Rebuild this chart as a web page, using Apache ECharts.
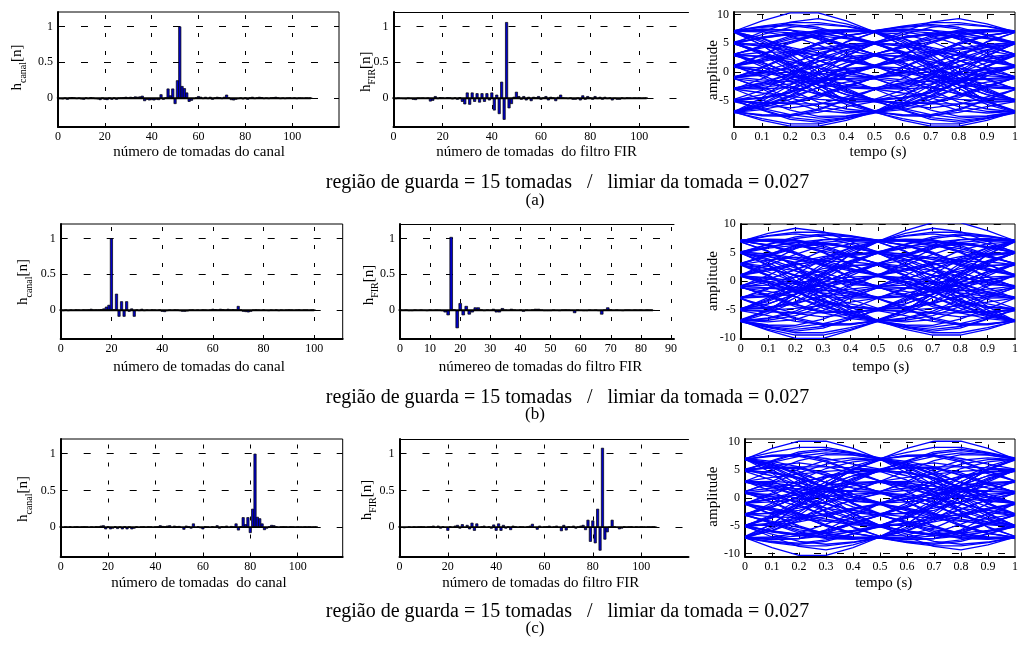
<!DOCTYPE html>
<html><head><meta charset="utf-8">
<script src="https://cdn.jsdelivr.net/npm/echarts@6/dist/echarts.min.js"></script>
<style>html,body{margin:0;padding:0;background:#fff}#c{width:1021px;height:647px}</style>
</head><body><div id="c"></div>
<script>
// ---------- data ----------
const canalA = [0.01,-0.01,-0.015,0.005,-0.02,0.01,0.015,0.01,-0.01,0.005,
 -0.015,-0.02,0.01,-0.01,0.015,0.005,-0.01,-0.015,-0.025,0.005,
 -0.02,-0.025,0.005,-0.02,0.01,-0.02,0.005,0.01,0.015,0.02,
 0.01,0.02,0.015,0.025,0.02,0.025,0.035,-0.04,-0.02,-0.03,
 -0.025,-0.03,-0.02,-0.025,0.055,-0.02,0.01,0.135,0.04,0.135,
 -0.08,0.25,1.0,0.17,0.14,0.08,-0.05,-0.035,-0.01,0.01,
 0.03,0.02,-0.01,0.02,-0.01,0.02,-0.02,0.01,0.02,0.015,
 -0.01,0.02,0.05,0.01,-0.025,-0.03,-0.02,-0.01,0.01,-0.015,
 0.01,-0.02,0.01,0.02,-0.01,0.01,0.02,0.015,-0.01,0.005,
 -0.01,0.01,0.015,0.02,0.01,-0.01,0.005,-0.01,0.005,0.01,
 -0.005,0.01,-0.01,0.005,0.0,-0.005,0.005,0.0,0.005];
const firA = [0.005,-0.01,0.005,-0.005,-0.01,-0.015,0.005,-0.005,-0.02,-0.025,
 0.005,0.0,0.005,-0.005,0.005,-0.045,-0.035,0.03,-0.01,0.015,
 0.01,-0.005,0.015,0.01,-0.015,0.01,-0.02,0.015,-0.05,-0.085,
 0.08,-0.09,0.08,-0.05,0.07,-0.06,0.07,-0.05,0.07,-0.03,
 0.08,-0.17,0.05,-0.22,0.23,-0.30,1.06,-0.14,-0.08,0.02,
 0.09,0.03,-0.02,0.03,-0.03,0.02,-0.04,0.02,0.01,0.03,
 -0.02,0.01,0.03,-0.03,0.02,0.01,-0.04,0.02,0.05,0.01,
 0.0,-0.01,0.01,-0.02,-0.02,0.005,-0.03,0.04,-0.02,0.03,
 0.01,-0.02,0.03,-0.01,0.02,-0.02,0.02,-0.01,0.01,-0.03,
 0.0,-0.02,-0.02,0.01,-0.01,0.01,0.005,-0.005,0.005,0.0,
 0.005,-0.005,0.0,0.005];
const canalB = [0.005,-0.01,0.005,-0.01,0.005,-0.005,0.01,0.005,-0.005,0.01,
 0.005,0.01,0.02,0.005,0.01,0.01,0.015,0.025,0.05,0.075,
 1.0,0.01,0.23,-0.09,0.125,-0.09,0.125,-0.02,0.025,-0.09,
 0.01,-0.01,0.02,-0.01,0.005,-0.005,0.01,0.005,-0.005,0.01,
 -0.02,-0.025,-0.01,0.005,-0.005,0.01,0.005,-0.01,-0.02,-0.02,
 -0.015,0.005,0.01,-0.005,0.005,-0.005,0.01,0.005,-0.005,0.005,
 0.02,0.015,0.005,0.02,0.015,0.005,0.02,0.01,0.015,0.01,
 0.06,0.01,-0.02,-0.025,-0.03,-0.02,0.005,0.01,0.005,-0.005,
 0.01,-0.005,-0.01,0.005,-0.005,0.01,-0.01,0.005,-0.005,0.005,
 0.01,0.005,-0.005,0.005,0.01,-0.005,0.005,0.005,-0.005,0.005,
 0.005];
const firB = [0.005,-0.005,0.005,-0.01,-0.01,0.005,-0.005,0.005,-0.005,-0.01,
 0.005,-0.005,0.005,0.0,-0.01,-0.03,-0.07,1.02,0.01,-0.25,
 0.10,-0.07,0.06,-0.06,-0.03,0.04,0.04,0.01,-0.01,0.005,
 -0.005,0.02,-0.03,-0.03,0.03,0.005,-0.005,0.02,0.005,-0.005,
 0.005,-0.02,0.005,-0.005,0.01,0.02,0.02,0.005,-0.01,-0.01,
 -0.01,0.005,-0.005,-0.01,0.005,0.01,0.005,-0.005,-0.04,0.005,
 -0.005,-0.01,-0.01,0.005,-0.005,0.005,-0.01,-0.06,0.005,0.04,
 0.01,-0.005,0.005,-0.005,-0.01,0.005,0.005,-0.005,0.005,0.0,
 0.005,-0.005,0.005,0.0,-0.005];
const canalC = [0.005,-0.01,0.005,-0.005,0.01,-0.01,0.005,0.01,-0.005,0.005,
 0.01,0.005,-0.01,0.005,-0.005,0.01,0.005,0.02,0.025,-0.03,
 0.01,-0.03,-0.02,0.01,-0.025,0.005,-0.03,0.01,-0.03,0.005,
 -0.03,-0.02,0.01,-0.01,0.005,0.01,-0.005,0.01,0.005,-0.01,
 0.005,0.01,0.025,0.015,0.01,0.02,0.025,-0.01,0.02,0.01,
 0.015,-0.01,-0.035,0.02,0.01,-0.02,0.05,-0.01,0.01,-0.015,
 -0.03,0.01,0.005,-0.01,0.01,-0.005,0.025,-0.02,0.01,0.005,
 0.02,-0.01,0.015,0.005,0.05,-0.045,0.01,0.135,0.04,0.135,
 -0.08,0.25,1.0,0.14,0.12,0.05,-0.04,-0.02,0.01,0.03,
 0.025,0.01,-0.01,0.005,0.01,0.005,-0.005,0.01,0.005,-0.005,
 0.005,0.0,-0.005,0.005,0.0,0.005,-0.005,0.0,0.005];
const firC = [0.005,-0.01,-0.015,-0.01,0.005,-0.01,0.005,-0.005,0.005,0.01,
 0.005,-0.01,0.005,0.01,0.02,-0.01,0.02,-0.02,0.01,-0.01,
 -0.05,0.01,-0.01,0.02,0.03,-0.02,0.04,-0.01,0.03,-0.03,
 0.06,-0.05,0.05,-0.01,0.01,0.02,-0.01,0.01,-0.02,0.035,
 -0.05,0.05,-0.05,0.03,-0.02,0.01,-0.04,0.02,0.01,-0.01,
 0.01,0.005,-0.01,0.01,0.02,0.045,-0.01,-0.035,0.02,-0.01,
 0.005,0.01,0.02,-0.01,0.005,0.02,-0.01,-0.055,0.03,-0.045,
 0.01,0.0,0.02,-0.02,0.005,0.02,0.03,-0.04,0.10,-0.20,
 0.09,-0.22,0.25,-0.32,1.08,-0.17,-0.07,0.0,0.10,0.01,
 -0.01,-0.03,-0.02,0.01,-0.005,0.005,0.01,-0.01,0.005,-0.005,
 0.005,0.0,-0.005,0.005,0.0,0.005,0.0];

// eye diagrams: received signal samples (5 per symbol, symbol period 0.5 s);
// each trace of the eye is a 2-symbol window of the signal (11 samples)
const eyeT = [0,0.1,0.2,0.3,0.4,0.5,0.6,0.7,0.8,0.9,1.0];
const eyeSigA = [
7.1,8.9,10.3,10.3,8.9, 7.0,4.7,1.3,-2.3,-5.1, -6.9,-7.7,-7.8,-6.7,-4.9, -3.1,-2.4,-1.5,-0.5,0.4,
1.0,1.8,2.8,3.8,4.6, 5.2,6.5,7.8,8.3,7.9, 7.0,5.5,3.1,-0.1,-2.9, -5.0,-6.6,-8.0,-8.5,-8.0,
-7.1,-6.6,-5.6,-4.0,-2.4, -1.1,-0.2,0.7,1.8,2.6, 3.1,4.2,5.3,6.3,7.0, 7.2,7.8,8.1,7.5,6.4,
5.0,3.0,0.3,-2.3,-4.0, -4.9,-4.5,-3.5,-2.0,-0.3, 0.8,0.2,-0.7,-1.8,-2.6, -2.9,-1.9,-0.3,1.8,3.7,
5.0,5.9,6.5,6.0,4.5, 3.0,1.3,-1.0,-3.6,-5.7, -7.1,-8.2,-9.1,-9.1,-8.2, -7.2,-6.0,-4.4,-2.8,-1.8,
-1.2,-1.8,-2.8,-3.8,-4.6, -5.0,-4.0,-2.3,-0.2,1.6, 2.9,3.4,3.5,3.0,2.0, 1.0,0.2,-0.7,-1.2,-1.2,
-0.9,-0.3,0.8,2.3,3.9, 5.1,5.9,6.6,7.1,7.3, 7.2,8.0,8.6,8.6,8.0, 7.1,5.8,3.8,1.2,-1.2,
-3.0,-4.9,-6.7,-7.8,-7.7, -7.0,-6.3,-4.8,-2.7,-0.7, 0.9,2.3,3.7,4.2,3.7, 2.9,1.6,-0.2,-2.3,-4.0,
-5.0,-5.5,-5.5,-4.5,-2.7, -1.0,0.7,2.7,4.8,6.3, 7.1,7.9,8.3,7.8,6.5, 5.1,3.4,1.1,-1.0,-2.2,
-2.8,-2.0,-0.5,1.0,2.2, 2.8,1.7,-0.3,-2.9,-5.3, -7.0,-7.5,-7.6,-7.1,-6.1, -5.2,-5.4,-5.6,-5.6,-5.4,
-5.1,-4.5,-3.5,-2.0,-0.3, 1.0,2.9,5.0,6.5,7.1, 7.0,5.9,4.1,2.0,0.3, -0.8,0.1,1.5,3.1,4.3,
4.9,3.4,1.1,-1.5,-3.6, -4.8,-4.7,-3.7,-1.7,0.9, 3.0,4.6,6.3,7.3,7.4, 7.1,7.0,6.3,4.7,2.8,
1.0,-0.9,-3.2,-5.3,-6.5, -7.0,-7.6,-7.5,-6.5,-4.8, -3.0,-1.2,1.2,3.3,4.4, 4.9,4.5,3.5,2.0,0.3,
-0.9,-1.4,-1.7,-1.2,0.0, 1.1,3.0,5.2,6.8,7.2, 6.9,4.7,1.3,-2.3,-5.1, -6.8,-6.1,-4.3,-1.7,0.9,
2.8,2.8,2.2,0.7,-1.4, -3.0,-3.7,-4.3,-4.8,-5.1, -5.2,-6.4,-7.5,-8.1,-7.8, -7.0,-5.1,-2.3,0.8,3.3,
4.9,4.9,4.3,3.3,2.1, 1.2,2.1,3.3,4.9,6.3, 7.1,7.2,6.8,5.8,4.4, 3.1,2.6,1.8,0.7,-0.2,
-1.1,-3.0,-5.2,-6.8,-7.2, -6.9,-5.7,-3.5,-0.4,2.7, 5.0,7.0,8.7,9.3,8.4, 7.0,5.2,2.6,-0.5,-3.2,
-4.9,-5.8,-6.3,-5.7,-4.4, -3.1,-2.2,-1.1,0.0,0.6, 0.9,0.7,0.3,-0.3,-0.7, -0.9,-0.6,0.0,1.1,2.2,
3.1,4.4,5.7,6.3,5.8, 4.9,3.3,0.8,-2.3,-5.1, -7.0,-8.5,-9.5,-9.5,-8.5, -7.0,-4.5,-1.1,2.5,5.3,
6.9,7.5,7.3,5.7,3.3, 1.0,-0.6,-2.5,-4.0,-4.8, -5.0,-5.4,-5.3,-4.2,-2.6, -1.0,0.8,3.0,5.1,6.4,
7.0,7.4,7.3,6.3,4.6, 3.1,1.6,-0.2,-1.7,-2.6, -2.9,-3.0,-2.7,-1.7,-0.2, 1.0,2.0,3.0,4.1,4.8,
5.1,6.0,6.8,6.8,6.0, 5.0,3.6,1.5,-1.1,-3.4, -5.0,-6.7,-8.3,-8.8,-8.1, -7.0,-5.9,-4.1,-1.5,1.1,
3.0,4.5,6.0,7.1,7.3, 7.2,7.4,7.3,6.8,6.0, 5.2,4.6,3.8,2.8,1.8, 1.0,0.0,-1.2,-2.3,-2.8,
-3.0,-2.7,-2.1,-1.5,-1.3, -1.2,-2.7,-4.5,-6.1,-6.9, -6.9,-5.5,-3.1,0.1,2.9, 4.9,6.1,6.7,6.2,4.7,
3.0,0.9,-1.7,-3.7,-4.7, -4.8,-3.2,-0.5,2.6,5.2, 6.9,6.6,5.4,3.3,1.0, -0.9];
const eyeSigB = [
-7.0,-8.7,-10.1,-10.1,-8.7, -7.1,-6.6,-5.6,-4.0,-2.4,
-0.9,1.0,3.3,5.4,6.6, 6.9,5.2,2.6,-0.5,-3.2, -4.8,-4.7,-3.7,-1.7,0.9, 3.0,4.7,6.2,6.7,6.1,
4.9,2.9,0.1,-3.1,-5.5, -6.9,-6.9,-6.1,-4.5,-2.7, -1.2,-1.3,-1.5,-2.1,-2.7, -3.0,-2.8,-2.3,-1.2,0.0,
1.0,1.8,2.8,3.8,4.6, 5.2,6.0,6.8,7.3,7.4, 7.2,7.3,7.1,6.0,4.5, 3.0,1.1,-1.5,-4.1,-5.9,
-7.0,-8.1,-8.8,-8.3,-6.7, -5.0,-3.4,-1.1,1.5,3.6, 5.0,6.0,6.8,6.8,6.0, 5.1,4.8,4.1,3.0,2.0,
1.0,-0.2,-1.7,-2.7,-3.0, -2.9,-2.6,-1.7,-0.2,1.6, 3.1,4.6,6.3,7.3,7.4, 7.0,6.4,5.1,3.0,0.8,
-1.0,-2.6,-4.2,-5.3,-5.4, -5.0,-4.8,-4.0,-2.5,-0.6, 1.0,3.3,5.7,7.3,7.5, 6.9,5.3,2.5,-1.1,-4.5,
-7.0,-8.5,-9.5,-9.5,-8.5, -7.0,-5.1,-2.3,0.8,3.3, 4.9,5.8,6.3,5.7,4.4, 3.1,2.2,1.1,0.0,-0.6,
-0.9,-0.7,-0.3,0.3,0.7, 0.9,0.6,0.0,-1.1,-2.2, -3.1,-4.4,-5.7,-6.3,-5.8, -4.9,-3.2,-0.5,2.6,5.2,
7.0,8.4,9.3,8.7,7.0, 5.0,2.7,-0.4,-3.5,-5.7, -6.9,-7.2,-6.8,-5.2,-3.0, -1.1,-0.2,0.7,1.8,2.6,
3.1,4.4,5.8,6.8,7.2, 7.1,6.3,4.9,3.3,2.1, 1.2,2.1,3.3,4.3,4.9, 4.9,3.3,0.8,-2.3,-5.1,
-7.0,-7.8,-8.1,-7.5,-6.4, -5.2,-5.1,-4.8,-4.3,-3.7, -3.0,-1.4,0.7,2.2,2.8, 2.8,0.9,-1.7,-4.3,-6.1,
-6.8,-5.1,-2.3,1.3,4.7, 6.9,7.2,6.8,5.2,3.0, 1.1,0.0,-1.2,-1.7,-1.4, -0.9,0.3,2.0,3.5,4.5,
4.9,4.4,3.3,1.2,-1.2, -3.0,-4.8,-6.5,-7.5,-7.6, -7.0,-6.5,-5.3,-3.2,-0.9, 1.0,2.8,4.7,6.3,7.0,
7.1,7.4,7.3,6.3,4.6, 3.0,0.9,-1.7,-3.7,-4.7, -4.8,-3.6,-1.5,1.1,3.4, 4.9,4.3,3.1,1.5,0.1,
-0.8,0.3,2.0,4.1,5.9, 7.0,7.1,6.5,5.0,2.9, 1.0,-0.3,-2.0,-3.5,-4.5, -5.1,-5.4,-5.6,-5.6,-5.4,
-5.2,-6.1,-7.1,-7.6,-7.5, -7.0,-5.3,-2.9,-0.3,1.7, 2.8,2.2,1.0,-0.5,-2.0, -2.8,-2.2,-1.0,1.1,3.4,
5.1,6.5,7.8,8.3,7.9, 7.1,6.3,4.8,2.7,0.7, -1.0,-2.7,-4.5,-5.5,-5.5, -5.0,-4.0,-2.3,-0.2,1.6,
2.9,3.7,4.2,3.7,2.3, 0.9,-0.7,-2.7,-4.8,-6.3, -7.0,-7.7,-7.8,-6.7,-4.9, -3.0,-1.2,1.2,3.8,5.8,
7.1,8.0,8.6,8.6,8.0, 7.2,7.3,7.1,6.6,5.9, 5.1,3.9,2.3,0.8,-0.3, -0.9,-1.2,-1.2,-0.7,0.2,
1.0,2.0,3.0,3.5,3.4, 2.9,1.6,-0.2,-2.3,-4.0, -5.0,-4.6,-3.8,-2.8,-1.8, -1.2,-1.8,-2.8,-4.4,-6.0,
-7.2,-8.2,-9.1,-9.1,-8.2, -7.1,-5.7,-3.6,-1.0,1.3, 3.0,4.5,6.0,6.5,5.9, 5.0,3.7,1.8,-0.3,-1.9,
-2.9,-2.6,-1.8,-0.7,0.2, 0.8,-0.3,-2.0,-3.5,-4.5, -4.9,-4.0,-2.3,0.3,3.0, 5.0,6.4,7.5,8.1,7.8,
7.2,7.0,6.3,5.3,4.2, 3.1,2.6,1.8,0.7,-0.2, -1.1,-2.4,-4.0,-5.6,-6.6, -7.1,-8.0,-8.5,-8.0,-6.6,
-5.0,-2.9,-0.1,3.1,5.5, 7.0,7.9,8.3,7.8,6.5, 5.2,4.6,3.8,2.8,1.8, 1.0,0.4,-0.5,-1.5,-2.4,
-3.1,-4.9,-6.7,-7.8,-7.7, -6.9,-5.1,-2.3,1.3,4.7, 7.0,8.9,10.3,10.3,8.9, 7.1];
const eyeSigC = [
-7.1,-8.9,-10.3,-10.3,-8.9, -7.0,-4.7,-1.3,2.3,5.1, 6.9,7.7,7.8,6.7,4.9, 3.1,2.4,1.5,0.5,-0.4,
-1.0,-1.8,-2.8,-3.8,-4.6, -5.2,-6.5,-7.8,-8.3,-7.9, -7.0,-5.5,-3.1,0.1,2.9, 5.0,6.6,8.0,8.5,8.0,
7.1,6.6,5.6,4.0,2.4, 1.1,0.2,-0.7,-1.8,-2.6, -3.1,-4.2,-5.3,-6.3,-7.0, -7.2,-7.8,-8.1,-7.5,-6.4,
-5.0,-3.0,-0.3,2.3,4.0, 4.9,4.5,3.5,2.0,0.3, -0.8,-0.2,0.7,1.8,2.6, 2.9,1.9,0.3,-1.8,-3.7,
-5.0,-5.9,-6.5,-6.0,-4.5, -3.0,-1.3,1.0,3.6,5.7, 7.1,8.2,9.1,9.1,8.2, 7.2,6.0,4.4,2.8,1.8,
1.2,1.8,2.8,3.8,4.6, 5.0,4.0,2.3,0.2,-1.6, -2.9,-3.4,-3.5,-3.0,-2.0, -1.0,-0.2,0.7,1.2,1.2,
0.9,0.3,-0.8,-2.3,-3.9, -5.1,-5.9,-6.6,-7.1,-7.3, -7.2,-8.0,-8.6,-8.6,-8.0, -7.1,-5.8,-3.8,-1.2,1.2,
3.0,4.9,6.7,7.8,7.7, 7.0,6.3,4.8,2.7,0.7, -0.9,-2.3,-3.7,-4.2,-3.7, -2.9,-1.6,0.2,2.3,4.0,
5.0,5.5,5.5,4.5,2.7, 1.0,-0.7,-2.7,-4.8,-6.3, -7.1,-7.9,-8.3,-7.8,-6.5, -5.1,-3.4,-1.1,1.0,2.2,
2.8,2.0,0.5,-1.0,-2.2, -2.8,-1.7,0.3,2.9,5.3, 7.0,7.5,7.6,7.1,6.1, 5.2,5.4,5.6,5.6,5.4,
5.1,4.5,3.5,2.0,0.3, -1.0,-2.9,-5.0,-6.5,-7.1, -7.0,-5.9,-4.1,-2.0,-0.3, 0.8,-0.1,-1.5,-3.1,-4.3,
-4.9,-3.4,-1.1,1.5,3.6, 4.8,4.7,3.7,1.7,-0.9, -3.0,-4.6,-6.3,-7.3,-7.4, -7.1,-7.0,-6.3,-4.7,-2.8,
-1.0,0.9,3.2,5.3,6.5, 7.0,7.6,7.5,6.5,4.8, 3.0,1.2,-1.2,-3.3,-4.4, -4.9,-4.5,-3.5,-2.0,-0.3,
0.9,1.4,1.7,1.2,0.0, -1.1,-3.0,-5.2,-6.8,-7.2, -6.9,-4.7,-1.3,2.3,5.1, 6.8,6.1,4.3,1.7,-0.9,
-2.8,-2.8,-2.2,-0.7,1.4, 3.0,3.7,4.3,4.8,5.1, 5.2,6.4,7.5,8.1,7.8, 7.0,5.1,2.3,-0.8,-3.3,
-4.9,-4.9,-4.3,-3.3,-2.1, -1.2,-2.1,-3.3,-4.9,-6.3, -7.1,-7.2,-6.8,-5.8,-4.4, -3.1,-2.6,-1.8,-0.7,0.2,
1.1,3.0,5.2,6.8,7.2, 6.9,5.7,3.5,0.4,-2.7, -5.0,-7.0,-8.7,-9.3,-8.4, -7.0,-5.2,-2.6,0.5,3.2,
4.9,5.8,6.3,5.7,4.4, 3.1,2.2,1.1,0.0,-0.6, -0.9,-0.7,-0.3,0.3,0.7, 0.9,0.6,0.0,-1.1,-2.2,
-3.1,-4.4,-5.7,-6.3,-5.8, -4.9,-3.3,-0.8,2.3,5.1, 7.0,8.9,10.2,10.2,8.9, 7.0,4.5,1.1,-2.5,-5.3,
-6.9,-7.5,-7.3,-5.7,-3.3, -1.0,0.6,2.5,4.0,4.8, 5.0,5.4,5.3,4.2,2.6, 1.0,-0.8,-3.0,-5.1,-6.4,
-7.0,-7.4,-7.3,-6.3,-4.6, -3.1,-1.6,0.2,1.7,2.6, 2.9,3.0,2.7,1.7,0.2, -1.0,-2.0,-3.0,-4.1,-4.8,
-5.1,-6.0,-6.8,-6.8,-6.0, -5.0,-3.6,-1.5,1.1,3.4, 5.0,6.7,8.3,8.8,8.1, 7.0,5.9,4.1,1.5,-1.1,
-3.0,-4.5,-6.0,-7.1,-7.3, -7.2,-7.4,-7.3,-6.8,-6.0, -5.2,-4.6,-3.8,-2.8,-1.8, -1.0,0.0,1.2,2.3,2.8,
3.0,2.7,2.1,1.5,1.3, 1.2,2.7,4.5,6.1,6.9, 6.9,5.5,3.1,-0.1,-2.9, -4.9,-6.1,-6.7,-6.2,-4.7,
-3.0,-0.9,1.7,3.7,4.7, 4.8,3.2,0.5,-2.6,-5.2, -6.9,-6.6,-5.4,-3.3,-1.0, 0.9];

const barYTicks = [0, 0.5, 1];
const ticks20 = [0, 20, 40, 60, 80, 100];
const ticks10 = [0, 10, 20, 30, 40, 50, 60, 70, 80, 90];
const eyeXTicks = [0, 0.1, 0.2, 0.3, 0.4, 0.5, 0.6, 0.7, 0.8, 0.9, 1];
const eyeYTicks = [-10, -5, 0, 5, 10];

// ---------- layout ----------
const FONT = "'Liberation Serif', 'Times New Roman', serif";
const SYM = 5, WIN = 11;  // samples per symbol, samples per eye trace
const panels = [
 {kind:'bar', data:canalA, left:58, top:12, width:281, height:115, xmax:120, xint:20, xTicks:ticks20, barW:3},
 {kind:'bar', data:firA, left:393.5, top:12, width:295, height:115, xmax:120, xint:20, xTicks:ticks20, barW:3, noRight:true},
 {kind:'eye', data:eyeSigA, left:734, top:12, width:286, height:115, ymin:-9.65, ymax:10.47, yint:0.05},
 {kind:'bar', data:canalB, left:60.7, top:224, width:282, height:115, xmax:111.2, xint:20, xTicks:ticks20, barW:3},
 {kind:'bar', data:firB, left:400, top:224, width:274, height:115, xmax:91, xint:10, xTicks:ticks10, barW:3.4, noRight:true},
 {kind:'eye', data:eyeSigB, left:740.7, top:224, width:280.3, height:115, ymin:-10.2, ymax:10.05, yint:0.05},
 {kind:'bar', data:canalC, left:60.7, top:439, width:282, height:117.5, xmax:119, xint:20, xTicks:ticks20, barW:3},
 {kind:'bar', data:firC, left:399.5, top:439, width:289, height:117.5, xmax:119.6, xint:20, xTicks:ticks20, barW:3, noRight:true},
 {kind:'eye', data:eyeSigC, left:745, top:439, width:276, height:117.5, ymin:-10.5, ymax:10.6, yint:0.5}
];

const grids = [], xAxes = [], yAxes = [], series = [];
const fmtList = list => v => list.some(t => Math.abs(t - v) < 1e-6) ? String(+(+v).toFixed(2)) : '';
const dashH = [7, 16], dashV = [4, 14];
const labelStyle = {fontFamily: FONT, fontSize: 12, color: '#000'};

panels.forEach(p => {
  const gi = grids.length;
  grids.push({left: p.left, top: p.top, width: p.width, height: p.height,
    show: !p.noRight, borderColor: '#000', borderWidth: 1, backgroundColor: 'transparent'});
  const isBar = p.kind === 'bar';
  const xmax = isBar ? p.xmax : 1, xint = isBar ? p.xint : 0.1;
  const ymin = isBar ? -0.4 : p.ymin, ymax = isBar ? 1.2 : p.ymax, yint = isBar ? 0.1 : p.yint;
  const xTicks = isBar ? p.xTicks : eyeXTicks, yTicks = isBar ? barYTicks : eyeYTicks;
  const xi = xAxes.length;
  xAxes.push({type: 'value', gridIndex: gi, min: 0, max: xmax, interval: xint, position: 'bottom',
    axisLine: {show: true, onZero: false, lineStyle: {color: '#000', width: 2}},
    axisTick: {show: false}, splitLine: {show: false},
    axisLabel: Object.assign({formatter: fmtList(xTicks), margin: 4, showMinLabel: true, showMaxLabel: true}, labelStyle)});
  if (p.noRight) {
    xAxes.push({type: 'value', gridIndex: gi, min: 0, max: xmax, position: 'top',
      axisLine: {show: true, onZero: false, lineStyle: {color: '#000', width: 1}},
      axisTick: {show: false}, axisLabel: {show: false}, splitLine: {show: false}});
  }
  const yi = yAxes.length;
  yAxes.push({type: 'value', gridIndex: gi, min: ymin, max: ymax, interval: yint,
    axisLine: {show: true, onZero: false, lineStyle: {color: '#000', width: 2}},
    axisTick: {show: false}, splitLine: {show: false},
    axisLabel: Object.assign({formatter: fmtList(yTicks), margin: 5, showMinLabel: true, showMaxLabel: true}, labelStyle)});
  const xGrid = xTicks.filter(v => v > 0 && v < xmax);
  const yGrid = yTicks.filter(v => v > ymin && v < ymax);
  const markLine = {silent: true, symbol: ['none', 'none'], z: 1, animation: false, label: {show: false},
    lineStyle: {color: '#000', width: 1},
    data: xGrid.map(v => ({xAxis: v, lineStyle: {color: '#000', width: 1, type: dashV}}))
      .concat(yGrid.map(v => ({yAxis: v, lineStyle: {color: '#000', width: 1, type: dashH}})))};
  if (isBar) {
    series.push({type: 'bar', xAxisIndex: xi, yAxisIndex: yi, silent: true, z: 2,
      data: p.data.map((v, i) => [i, v]), barWidth: p.barW,
      itemStyle: {color: '#0000c8', borderColor: '#000', borderWidth: 0.7}, markLine});
    series.push({type: 'line', xAxisIndex: xi, yAxisIndex: yi, silent: true, z: 3, symbol: 'none',
      data: [[0, 0], [p.data.length - 1, 0]], lineStyle: {color: '#000', width: 1.8}});
  } else {
    const sig = p.data;
    for (let s = 0, k = 0; s + WIN <= sig.length; s += SYM, k++) {
      const seg = sig.slice(s, s + WIN);
      const ser = {type: 'line', xAxisIndex: xi, yAxisIndex: yi, silent: true, z: 2, symbol: 'none',
        data: seg.map((v, i) => [eyeT[i], v]), lineStyle: {color: '#0000ff', width: 1.3}};
      if (k === 0) ser.markLine = markLine;
      series.push(ser);
    }
  }
});

// ---------- text ----------
const graphic = [];
function txt(x, y, text, size) {
  graphic.push({type: 'text', x, y, z: 100, silent: true,
    style: {text, fontFamily: FONT, fontSize: size, fill: '#000', align: 'center', verticalAlign: 'middle'}});
}
function ylab(x, y, main, sub) {
  const text = sub ? '{m|' + main + '}{s|' + sub + '}{m|[n]}' : '{m|' + main + '}';
  graphic.push({type: 'text', x, y, rotation: Math.PI / 2, z: 100, silent: true,
    style: {text, align: 'center', verticalAlign: 'middle', fill: '#000',
      rich: {m: {fontFamily: FONT, fontSize: 15, lineHeight: 22, verticalAlign: 'middle', fill: '#000'},
             s: {fontFamily: FONT, fontSize: 10, lineHeight: 10, verticalAlign: 'bottom', fill: '#000'}}}});
}
txt(199, 152, 'número de tomadas do canal', 15);
txt(536.7, 152, 'número de tomadas  do filtro FIR', 15);
txt(878, 152, 'tempo (s)', 15);
txt(199, 367, 'número de tomadas do canal', 15);
txt(540.5, 366.7, 'númereo de tomadas do filtro FIR', 15);
txt(880.8, 366.7, 'tempo (s)', 15);
txt(199, 583.3, 'número de tomadas  do canal', 15);
txt(540.8, 583.3, 'número de tomadas do filtro FIR', 15);
txt(883.7, 583.3, 'tempo (s)', 15);
const caption = 'região de guarda = 15 tomadas   /   limiar da tomada = 0.027';
txt(567.5, 183, caption, 20); txt(535, 201, '(a)', 17);
txt(567.5, 398, caption, 20); txt(535, 415, '(b)', 17);
txt(567.5, 612, caption, 20); txt(535, 629, '(c)', 17);
ylab(17, 67.5, 'h', 'canal'); ylab(366, 71.7, 'h', 'FIR'); ylab(713, 70, 'amplitude');
ylab(23, 282, 'h', 'canal'); ylab(369, 285, 'h', 'FIR'); ylab(713, 281, 'amplitude');
ylab(23, 499, 'h', 'canal'); ylab(367.5, 500, 'h', 'FIR'); ylab(713, 496.7, 'amplitude');

const chart = echarts.init(document.getElementById('c'), null, {renderer: 'canvas'});
chart.setOption({animation: false, backgroundColor: '#fff', grid: grids, xAxis: xAxes, yAxis: yAxes, series, graphic});
</script>
</body></html>
